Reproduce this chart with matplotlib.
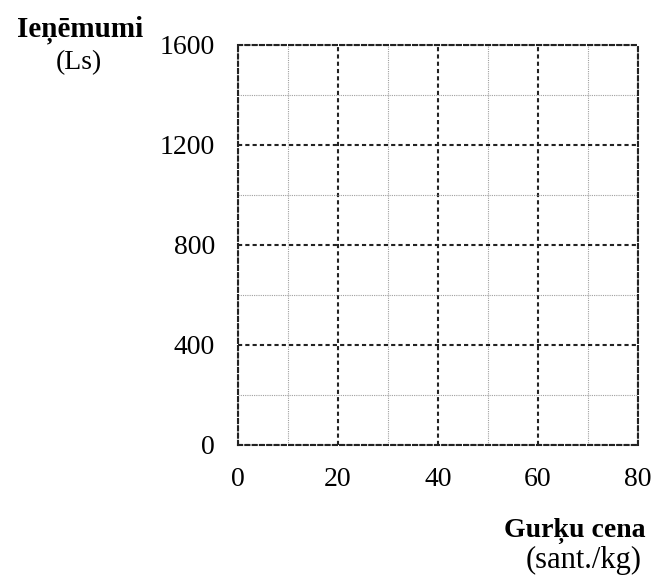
import matplotlib
matplotlib.use("Agg")
import matplotlib.pyplot as plt

x_ticks = [0, 20, 40, 60, 80]
y_ticks = [0, 400, 800, 1200, 1600]
x_minor = [10, 30, 50, 70]
y_minor = [200, 600, 1000, 1400]
y_title = "Ieņēmumi"
y_unit = "(Ls)"
x_title = "Gurķu cena"
x_unit = "(sant./kg)"

plt.rcParams['font.family'] = ['Liberation Serif', 'DejaVu Serif']
FS = 20

fig = plt.figure(figsize=(6.57, 5.78), dpi=100)
ax = fig.add_axes([238/657, 1-445/578, 400/657, 400/578])
ax.set_xlim(x_ticks[0], x_ticks[-1])
ax.set_ylim(y_ticks[0], y_ticks[-1])
ax.set_xticks(x_ticks)
ax.set_yticks(y_ticks)
ax.set_xticks(x_minor, minor=True)
ax.set_yticks(y_minor, minor=True)
ax.tick_params(which='both', length=0)
ax.tick_params(axis='y', pad=16.5, labelsize=FS)
ax.tick_params(axis='x', pad=15.5, labelsize=FS)

ax.grid(which='minor', color='#a0a0a0', linestyle=(0, (1, 1)), linewidth=0.8)
ax.grid(which='major', color='#222222', linestyle=(0, (2, 1.5)), linewidth=1.5)
for s in ax.spines.values():
    s.set_linestyle((0, (2, 1.5)))
    s.set_linewidth(1.5)
    s.set_color('#222222')

fig.text(80/657, 1-36/578, y_title, ha='center', va='baseline', fontsize=21, fontweight='bold')
fig.text(78.5/657, 1-69/578, y_unit, ha='center', va='baseline', fontsize=FS)
fig.text(575/657, 1-537/578, x_title, ha='center', va='baseline', fontsize=FS, fontweight='bold')
fig.text(584/657, 1-568/578, x_unit, ha='center', va='baseline', fontsize=22)

fig.savefig("out.png", dpi=100)
